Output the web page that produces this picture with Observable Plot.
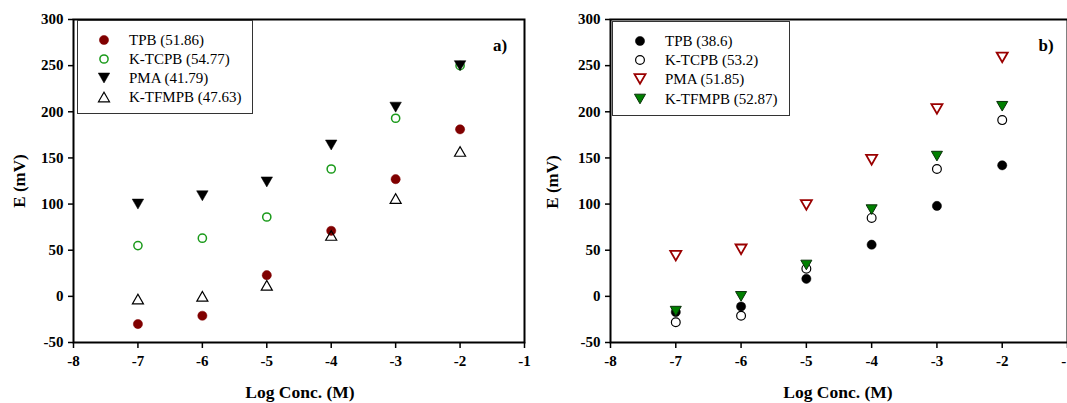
<!DOCTYPE html>
<html>
<head>
<meta charset="utf-8">
<script src="https://cdn.jsdelivr.net/npm/d3@7"></script>
<script src="https://cdn.jsdelivr.net/npm/@observablehq/plot@0.6"></script>
<style>
  body { margin: 0; background: #fff; }
  #wrap { position: relative; width: 1067px; height: 403px; overflow: hidden;
          font-family: "Liberation Serif", "Times New Roman", serif; color: #000; }
  .panel { position: absolute; top: 0; }
  .panel svg { overflow: hidden; }
  .ytitle, .xtitle, .tag { position: absolute; font-weight: bold; white-space: nowrap;
          transform: translate(-50%, -50%); }
  .ytitle { font-size: 17px; transform: translate(-50%, -50%) rotate(-90deg); }
  .xtitle { font-size: 17.5px; }
  .tag { font-size: 17px; }
  .legend { position: absolute; border: 1.5px solid #333; background: #fff; box-sizing: border-box; }
  .legend .row { position: absolute; display: flex; align-items: center; font-size: 15px; white-space: nowrap; }
  .legend svg { position: absolute; overflow: visible; }
</style>
</head>
<body>
<div id="wrap"></div>
<script>
// Potential response E (mV) versus log concentration (M)
const logConc = [-7, -6, -5, -4, -3, -2];
const seriesNames = ["TPB", "K-TCPB", "PMA", "K-TFMPB"];
const xTicks = [-8, -7, -6, -5, -4, -3, -2, -1];
const yTicks = [-50, 0, 50, 100, 150, 200, 250, 300];

// panel a)
const slopesA = ["51.86", "54.77", "41.79", "47.63"];
const tpbA     = [-30, -21, 23, 71, 127, 181];
const ktcpbA   = [55, 63, 86, 138, 193, 250];
const pmaA     = [100, 109, 124, 164, 205, 250];
const ktfmpbA  = [-3, 0, 12, 66, 106, 157];

// panel b)
const slopesB = ["38.6", "53.2", "51.85", "52.87"];
const tpbB     = [-17, -11, 19, 56, 98, 142];
const ktcpbB   = [-28, -21, 30, 85, 138, 191];
const pmaB     = [44, 51, 99, 148, 203, 259];
const ktfmpbB  = [-16, 0, 34, 94, 152, 206];

// triangle markers sized from the radius implied by the symbol area
const triDown = {draw(ctx, size) {
  const r = Math.sqrt(size / Math.PI), w = 1.15 * r, h = r;
  ctx.moveTo(-w, -h); ctx.lineTo(w, -h); ctx.lineTo(0, h); ctx.closePath();
}};
const triUp = {draw(ctx, size) {
  const r = Math.sqrt(size / Math.PI), w = 1.15 * r, h = r;
  ctx.moveTo(-w, h); ctx.lineTo(w, h); ctx.lineTo(0, -h); ctx.closePath();
}};

const stylesA = [
  {symbol: "circle", r: 4.6, fill: "#800000", stroke: "#800000", strokeWidth: 0.5},
  {symbol: "circle", r: 4.1, fill: "none", stroke: "#1a9a1a", strokeWidth: 1.5},
  {symbol: triDown, r: 5, fill: "#000", stroke: "#000", strokeWidth: 0.5},
  {symbol: triUp, r: 4.8, fill: "none", stroke: "#000", strokeWidth: 1.2}
];
const stylesB = [
  {symbol: "circle", r: 4.6, fill: "#000", stroke: "#000", strokeWidth: 0.5},
  {symbol: "circle", r: 4.4, fill: "none", stroke: "#000", strokeWidth: 1.2},
  {symbol: triDown, r: 4.8, fill: "none", stroke: "#9a0000", strokeWidth: 1.8},
  {symbol: triDown, r: 4.8, fill: "#008000", stroke: "#0a300a", strokeWidth: 1}
];

function drawPanel({left, width, marginLeft, marginRight, values, styles}) {
  const marks = [
    Plot.frame({stroke: "#000", strokeWidth: 2}),
    Plot.axisX({ticks: xTicks, tickSize: 6, tickPadding: 7, strokeWidth: 1.5,
                tickFormat: d => String(d), label: null}),
    Plot.axisY({ticks: yTicks, tickSize: 5, tickPadding: 5, strokeWidth: 1.5,
                tickFormat: d => String(d), label: null})
  ];
  values.forEach((vals, k) => {
    const s = styles[k];
    marks.push(Plot.dot(logConc.map((x, i) => ({x, y: vals[i]})), {
      x: "x", y: "y", symbol: s.symbol, r: s.r,
      fill: s.fill, stroke: s.stroke, strokeWidth: s.strokeWidth
    }));
  });
  const chart = Plot.plot({
    width, height: 403,
    marginTop: 19, marginBottom: 61, marginLeft, marginRight,
    x: {domain: [-8, -1]},
    y: {domain: [-50, 300]},
    style: {fontFamily: '"Liberation Serif", "Times New Roman", serif',
            fontSize: "15px", fontWeight: "bold", color: "#000", background: "transparent"},
    marks
  });
  const holder = document.createElement("div");
  holder.className = "panel";
  holder.style.left = left + "px";
  holder.appendChild(chart);
  document.getElementById("wrap").appendChild(holder);
}

function addText(cls, text, x, y) {
  const d = document.createElement("div");
  d.className = cls; d.textContent = text;
  d.style.left = x + "px"; d.style.top = y + "px";
  document.getElementById("wrap").appendChild(d);
}

function addLegend({x, y, w, h, symX, textX, rowsY, styles, slopes}) {
  const box = document.createElement("div");
  box.className = "legend";
  Object.assign(box.style, {left: x + "px", top: y + "px", width: w + "px", height: h + "px"});
  seriesNames.forEach((name, k) => {
    const s = styles[k];
    const svg = d3.create("svg").attr("width", 1).attr("height", 1)
      .style("left", (symX - x) + "px").style("top", (rowsY[k] - y) + "px");
    svg.append("path")
      .attr("d", d3.symbol(s.symbol === "circle" ? d3.symbolCircle : s.symbol, Math.PI * s.r * s.r)())
      .attr("fill", s.fill).attr("stroke", s.stroke).attr("stroke-width", s.strokeWidth);
    box.appendChild(svg.node());
    const row = document.createElement("div");
    row.className = "row";
    row.textContent = `${name} (${slopes[k]})`;
    row.style.left = (textX - x) + "px";
    row.style.top = (rowsY[k] - y - 9) + "px";
    row.style.height = "18px";
    box.appendChild(row);
  });
  document.getElementById("wrap").appendChild(box);
}

drawPanel({left: 0, width: 540, marginLeft: 73, marginRight: 16,
           values: [tpbA, ktcpbA, pmaA, ktfmpbA], styles: stylesA});
drawPanel({left: 540, width: 527, marginLeft: 70, marginRight: 0,
           values: [tpbB, ktcpbB, pmaB, ktfmpbB], styles: stylesB});

addLegend({x: 77, y: 20, w: 176, h: 94, symX: 103, textX: 128,
           rowsY: [39, 58, 77, 96], styles: stylesA, slopes: slopesA});
addLegend({x: 612, y: 21, w: 178, h: 95, symX: 639, textX: 664,
           rowsY: [40, 59, 78, 98], styles: stylesB, slopes: slopesB});

addText("ytitle", "E (mV)", 20, 181);
addText("ytitle", "E (mV)", 553, 182);
addText("xtitle", "Log Conc. (M)", 300, 392);
addText("xtitle", "Log Conc. (M)", 838, 392);
addText("tag", "a)", 500, 46);
addText("tag", "b)", 1046, 46);
</script>
</body>
</html>
